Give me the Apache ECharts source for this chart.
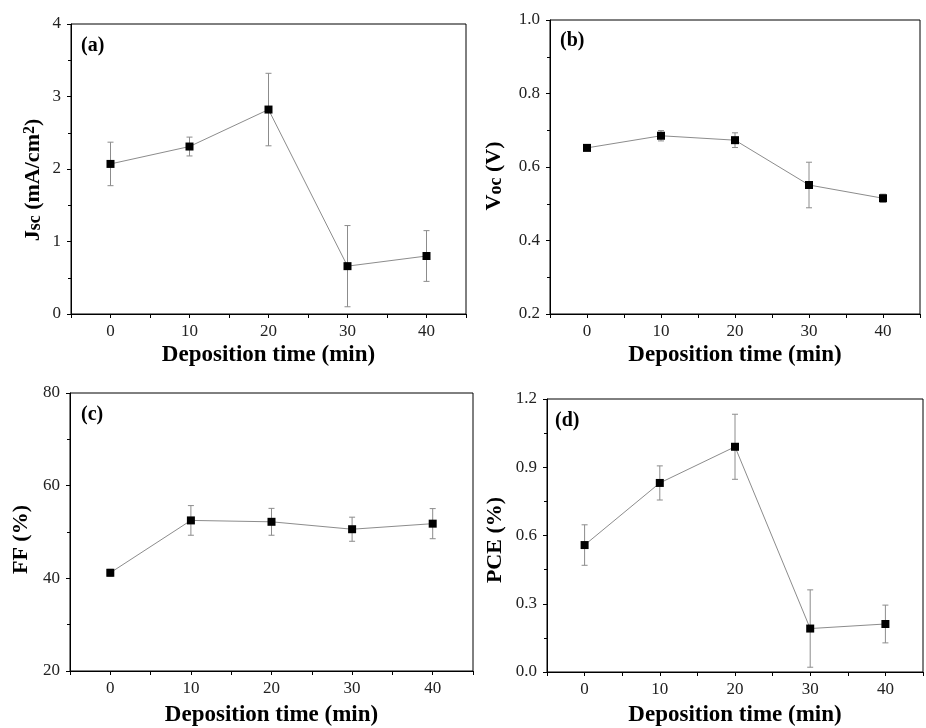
<!DOCTYPE html>
<html>
<head>
<meta charset="utf-8">
<script src="https://cdn.jsdelivr.net/npm/echarts@6/dist/echarts.min.js"></script>
<style>
  html, body { margin: 0; padding: 0; background: #fff; }
  #main { width: 926px; height: 728px; }
</style>
</head>
<body>
<div id="main"></div>
<script>
// deposition time (min)
var times = [0, 10, 20, 30, 40];

// (a) Jsc, mA/cm2
var jsc = [2.07, 2.31, 2.82, 0.66, 0.80];
var jscErr = [0.30, 0.13, 0.50, 0.56, 0.35];
// (b) Voc, V
var voc = [0.652, 0.685, 0.673, 0.551, 0.515];
var vocErr = [0.005, 0.014, 0.020, 0.062, 0.011];
// (c) FF, %
var ff = [41.2, 52.5, 52.2, 50.6, 51.8];
var ffErr = [0.75, 3.2, 2.9, 2.6, 3.25];
// (d) PCE, %
var pce = [0.558, 0.831, 0.990, 0.191, 0.211];
var pceErr = [0.089, 0.075, 0.143, 0.17, 0.083];

var panelLabels = ['(a)', '(b)', '(c)', '(d)'];
var xTitle = 'Deposition time (min)';

var serif = "'Liberation Serif', 'Times New Roman', serif";

var myChart = echarts.init(document.getElementById('main'));

// plot boxes
var grids = [
  { left: 71, top: 24, width: 395, height: 290 },
  { left: 550, top: 20, width: 370, height: 294 },
  { left: 70, top: 393, width: 403, height: 279 },
  { left: 547, top: 399, width: 390, height: 274 }
];

function pairs(ys) {
  return times.map(function (t, i) { return [t, ys[i]]; });
}
function triples(ys, es) {
  return times.map(function (t, i) { return [t, ys[i], es[i]]; });
}

// error bars drawn with the grid's own scales
function errorBars(params, api) {
  var x = api.value(0), y = api.value(1), e = api.value(2);
  var hi = api.coord([x, y + e]);
  var lo = api.coord([x, y - e]);
  var cap = 3;
  var st = { stroke: '#8c8c8c', lineWidth: 1 };
  return {
    type: 'group',
    children: [
      { type: 'line', shape: { x1: hi[0], y1: hi[1], x2: lo[0], y2: lo[1] }, style: st },
      { type: 'line', shape: { x1: hi[0] - cap, y1: hi[1], x2: hi[0] + cap, y2: hi[1] }, style: st },
      { type: 'line', shape: { x1: lo[0] - cap, y1: lo[1], x2: lo[0] + cap, y2: lo[1] }, style: st }
    ]
  };
}

var nameBold = { fontFamily: serif, fontSize: 23, fontWeight: 'bold', color: '#000' };
var xGaps = [30, 30, 33, 32];

function xAxisFor(i) {
  return {
    type: 'value', gridIndex: i, min: -5, max: 45, interval: 5,
    name: xTitle, nameLocation: 'middle', nameGap: xGaps[i],
    nameTextStyle: nameBold,
    axisLine: { onZero: false, lineStyle: { color: '#000', width: 1 } },
    axisTick: { show: true, length: 4, lineStyle: { color: '#000' } },
    axisLabel: {
      margin: 9, fontFamily: serif, fontSize: 17, color: '#222',
      formatter: function (v) { return (v % 10 === 0 && v >= 0 && v <= 40) ? String(v) : ''; }
    },
    splitLine: { show: false }
  };
}

var yNames = [
  '{b|J}{sub|sc}{b| (mA/cm}{sup|2}{b|)}',
  '{b|V}{sub|oc}{b| (V)}',
  '{b|FF (%)}',
  '{b|PCE (%)}'
];
var yRange = [
  { min: 0, max: 4, interval: 1, dec: 0, gap: 27, shift: 22 },
  { min: 0.2, max: 1.0, interval: 0.2, dec: 1, gap: 45, shift: 18 },
  { min: 20, max: 80, interval: 20, dec: 0, gap: 38, shift: 15 },
  { min: 0, max: 1.2, interval: 0.3, dec: 1, gap: 41, shift: 9 }
];

function yAxisFor(i) {
  var r = yRange[i];
  return {
    type: 'value', gridIndex: i, min: r.min, max: r.max, interval: r.interval,
    name: yNames[i], nameLocation: 'middle', nameGap: r.gap, nameRotate: 90,
    nameTextStyle: {
      fontFamily: serif, color: '#000', padding: [0, r.shift, 0, 0],
      rich: {
        b: { fontFamily: serif, fontSize: 22, fontWeight: 'bold', color: '#000' },
        sub: { fontFamily: serif, fontSize: 18, fontWeight: 'bold', color: '#000', verticalAlign: 'bottom' },
        sup: { fontFamily: serif, fontSize: 16, fontWeight: 'bold', color: '#000', verticalAlign: 'top' }
      }
    },
    axisLine: { show: true, onZero: false, lineStyle: { color: '#000', width: 1 } },
    axisTick: { show: true, length: 4, lineStyle: { color: '#000' } },
    minorTick: { show: true, splitNumber: 2, length: 3, lineStyle: { color: '#000' } },
    axisLabel: {
      margin: 10, fontFamily: serif, fontSize: 17, color: '#222',
      formatter: function (v) { return v.toFixed(r.dec); }
    },
    splitLine: { show: false }
  };
}

var sets = [[jsc, jscErr], [voc, vocErr], [ff, ffErr], [pce, pceErr]];
var series = [];
sets.forEach(function (s, i) {
  series.push({
    type: 'custom', xAxisIndex: i, yAxisIndex: i,
    renderItem: errorBars, data: triples(s[0], s[1]), z: 2, silent: true
  });
  series.push({
    type: 'line', xAxisIndex: i, yAxisIndex: i, data: pairs(s[0]),
    symbol: 'rect', symbolSize: 8, z: 3,
    itemStyle: { color: '#000' },
    lineStyle: { color: '#8c8c8c', width: 1 }
  });
});

var labelPos = [[81, 36], [560, 31], [81, 405], [555, 411]];

var option = {
  backgroundColor: '#fff',
  animation: false,
  grid: grids.map(function (g) {
    return Object.assign({ show: true, borderColor: '#000', borderWidth: 1, containLabel: false }, g);
  }),
  xAxis: [0, 1, 2, 3].map(xAxisFor),
  yAxis: [0, 1, 2, 3].map(yAxisFor),
  graphic: panelLabels.map(function (t, i) {
    return {
      type: 'text', left: labelPos[i][0], top: labelPos[i][1],
      style: { text: t, fontFamily: serif, fontSize: 20, fontWeight: 'bold', fill: '#000' }
    };
  }),
  series: series
};

myChart.setOption(option);
</script>
</body>
</html>
